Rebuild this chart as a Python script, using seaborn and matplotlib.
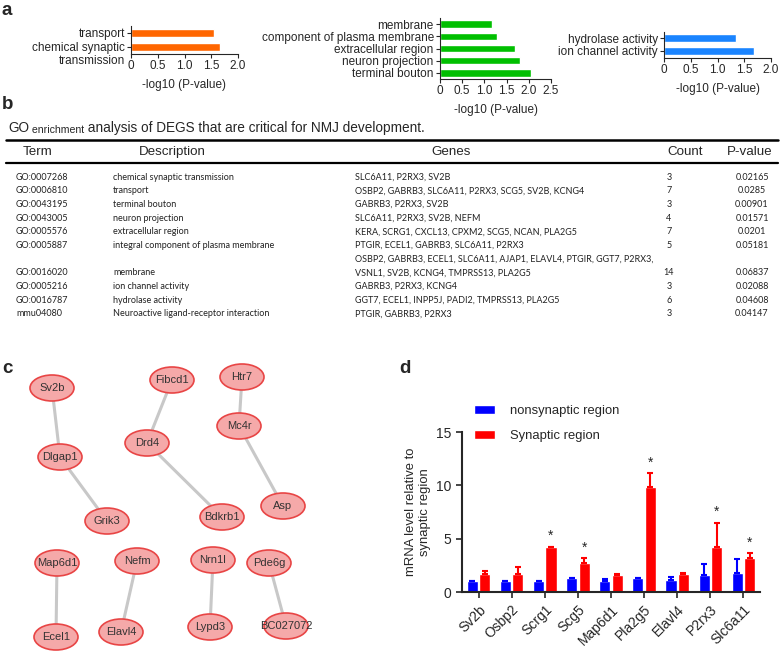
import matplotlib
matplotlib.use('Agg')
import matplotlib.pyplot as plt
from matplotlib.patches import Ellipse
import numpy as np
import pandas as pd
import seaborn as sns

# ---- data -------------------------------------------------------------
# panel a: -log10(P) of the GO terms
bp_terms = ['transport', 'chemical synaptic']
bp_vals = [1.55, 1.66]
cc_terms = ['membrane', 'component of plasma membrane', 'extracellular region',
            'neuron projection', 'terminal bouton']
cc_vals = [1.16, 1.29, 1.70, 1.80, 2.04]
mf_terms = ['hydrolase activity', 'ion channel activity']
mf_vals = [1.34, 1.68]

# panel b: table
tbl_title = ['GO', ' enrichment', ' analysis of DEGS that are critical for NMJ development.']
tbl_header = ['Term', 'Description', 'Genes', 'Count', 'P-value']
go_ids = ['GO:0007268', 'GO:0006810', 'GO:0043195', 'GO:0043005', 'GO:0005576',
          'GO:0005887', 'GO:0016020', 'GO:0005216', 'GO:0016787', 'mmu04080']
go_desc = ['chemical synaptic transmission', 'transport', 'terminal bouton',
           'neuron projection', 'extracellular region',
           'integral component of plasma membrane', 'membrane',
           'ion channel activity', 'hydrolase activity',
           'Neuroactive ligand-receptor interaction']
go_genes = ['SLC6A11, P2RX3, SV2B',
            'OSBP2, GABRB3, SLC6A11, P2RX3, SCG5, SV2B, KCNG4',
            'GABRB3, P2RX3, SV2B',
            'SLC6A11, P2RX3, SV2B, NEFM',
            'KERA, SCRG1, CXCL13, CPXM2, SCG5, NCAN, PLA2G5',
            'PTGIR, ECEL1, GABRB3, SLC6A11, P2RX3',
            'OSBP2, GABRB3, ECEL1, SLC6A11, AJAP1, ELAVL4, PTGIR, GGT7, P2RX3,\n'
            'VSNL1, SV2B, KCNG4, TMPRSS13, PLA2G5',
            'GABRB3, P2RX3, KCNG4',
            'GGT7, ECEL1, INPP5J, PADI2, TMPRSS13, PLA2G5',
            'PTGIR, GABRB3, P2RX3']
go_count = ['3', '7', '3', '4', '7', '5', '14', '3', '6', '3']
go_pval = ['0.02165', '0.0285', '0.00901', '0.01571', '0.0201', '0.05181',
           '0.06837', '0.02088', '0.04608', '0.04147']

# panel c: network (node layout in pixels) and edges
net_nodes = ['Sv2b', 'Dlgap1', 'Grik3', 'Fibcd1', 'Drd4', 'Bdkrb1', 'Htr7', 'Mc4r',
             'Asp', 'Map6d1', 'Ecel1', 'Nefm', 'Elavl4', 'Nrn1l', 'Lypd3',
             'Pde6g', 'BC027072']
net_x = [52, 60, 107, 172, 147, 222, 242, 239, 283, 57, 56, 137, 121, 213, 210, 269, 286]
net_y = [388, 457, 521, 380, 443, 517, 377, 426, 506, 563, 637, 561, 632, 560, 627, 563, 626]
net_edges = [('Sv2b', 'Dlgap1'), ('Dlgap1', 'Grik3'), ('Fibcd1', 'Drd4'),
             ('Drd4', 'Bdkrb1'), ('Htr7', 'Mc4r'), ('Mc4r', 'Asp'),
             ('Map6d1', 'Ecel1'), ('Nefm', 'Elavl4'), ('Nrn1l', 'Lypd3'),
             ('Pde6g', 'BC027072')]

# panel d: qPCR
genes = ['Sv2b', 'Osbp2', 'Scrg1', 'Scg5', 'Map6d1', 'Pla2g5', 'Elavl4', 'P2rx3', 'Slc6a11']
nonsyn_mean = [1.0, 1.0, 1.0, 1.3, 1.05, 1.3, 1.1, 1.55, 1.75]
nonsyn_err = [0.0, 0.0, 0.0, 0.05, 0.15, 0.05, 0.3, 1.05, 1.3]
syn_mean = [1.7, 1.7, 4.2, 2.7, 1.6, 9.8, 1.65, 4.25, 3.2]
syn_err = [0.3, 0.6, 0.05, 0.45, 0.05, 1.35, 0.15, 2.25, 0.45]
significant = [False, False, True, True, False, True, False, True, True]
regions = ['nonsynaptic region', 'Synaptic region']

# ---- style ------------------------------------------------------------
sns.set_style('ticks')
plt.rcParams['font.family'] = ['Liberation Sans', 'DejaVu Sans']
TABLE_FONT = ['Lato', 'DejaVu Sans']
TFS = 6.5

W, H = 782, 652


def rect(x0, y0, x1, y1):
    # pixel box (top-left origin) -> figure fraction
    return [x0 / W, 1 - y1 / H, (x1 - x0) / W, (y1 - y0) / H]


fig = plt.figure(figsize=(W / 100, H / 100), dpi=100)
ov = fig.add_axes([0, 0, 1, 1])
ov.set_xlim(0, W)
ov.set_ylim(H, 0)
ov.axis('off')


# ---- panel a ----------------------------------------------------------
def go_bars(box, terms, vals, color, xmax, ticks):
    ax = fig.add_axes(rect(*box))
    sns.barplot(x=vals, y=terms, orient='h', color=color, width=0.6,
                saturation=1, ax=ax)
    ax.set_xlim(0, xmax)
    ax.set_xticks(ticks)
    ax.set_xticklabels(['0' if t == 0 else f'{t:.1f}' for t in ticks])
    ax.set_xlabel('-log10 (P-value)', fontsize=8.5, labelpad=5)
    ax.set_ylabel('')
    sns.despine(ax=ax)
    ax.tick_params(labelsize=8.5, length=3, width=0.8, pad=1.5)
    for s in ax.spines.values():
        s.set_linewidth(0.8)
    return ax


ax1 = go_bars((131, 26, 238, 54), bp_terms, bp_vals, '#ff6600', 2.0,
              [0, 0.5, 1.0, 1.5, 2.0])
ax1.annotate('transmission', xy=(0, 2.0), xycoords=('axes fraction', 'data'),
             xytext=(-4.5, 0), textcoords='offset points', ha='right',
             va='center', fontsize=8.5, annotation_clip=False)
go_bars((440, 18, 551, 79), cc_terms, cc_vals, '#00bf00', 2.5,
        [0, 0.5, 1.0, 1.5, 2.0, 2.5])
go_bars((664, 31.5, 771, 57.5), mf_terms, mf_vals, '#1a84ff', 2.0,
        [0, 0.5, 1.0, 1.5, 2.0])

# panel letters
for lab, (px, py) in zip('abcd', [(2, 2), (2, 96), (2, 360), (399, 360)]):
    ov.text(px, py, lab, fontsize=13.5, fontweight='bold', va='top', ha='left')

# ---- panel b ----------------------------------------------------------
t = ov.text(8, 132, tbl_title[0], fontsize=9.8, va='baseline')
t = ov.annotate(tbl_title[1], xy=(1, 0), xycoords=t, fontsize=7.6, va='bottom')
ov.annotate(tbl_title[2], xy=(1, 0), xycoords=t, fontsize=9.8, va='bottom')

ov.plot([6, 778], [140, 140], color='black', lw=1.8)
ov.plot([6, 778], [163, 163], color='black', lw=1.6)
for txt, hx in zip(tbl_header, [38, 172, 451, 685, 750]):
    ov.text(hx, 152, txt, fontsize=9.6, ha='center', va='center')

line = 0
row_y = lambda k: 177 + 13.7 * k
for gid, desc, gn, cnt, pv in zip(go_ids, go_desc, go_genes, go_count, go_pval):
    parts = gn.split('\n')
    for j, p in enumerate(parts):
        ov.text(355, row_y(line + j), p, fontsize=TFS, family=TABLE_FONT,
                color='#222222', va='center')
    main = line + len(parts) - 1
    y = row_y(main)
    ov.text(16, y, gid, fontsize=TFS, family=TABLE_FONT, color='#222222', va='center')
    ov.text(113, y, desc, fontsize=TFS, family=TABLE_FONT, color='#222222', va='center')
    ov.text(669, y, cnt, fontsize=TFS, family=TABLE_FONT, color='#222222',
            va='center', ha='center')
    ov.text(752, y, pv, fontsize=TFS, family=TABLE_FONT, color='#222222',
            va='center', ha='center')
    line += len(parts)

# ---- panel c ----------------------------------------------------------
pos = {n: (x, y) for n, x, y in zip(net_nodes, net_x, net_y)}
for a, b in net_edges:
    ov.plot([pos[a][0], pos[b][0]], [pos[a][1], pos[b][1]],
            color='#c8c8c8', lw=2.2, solid_capstyle='round', zorder=1)
for n in net_nodes:
    x, y = pos[n]
    ov.add_patch(Ellipse((x, y), 44, 26, fc='#f5a9a9', ec='#e84545',
                         lw=1.2, zorder=2))
    ov.text(x, y, n, fontsize=8, ha='center', va='center', color='#333333',
            zorder=3)

# ---- panel d ----------------------------------------------------------
df = pd.DataFrame({
    'gene': genes + genes,
    'region': [regions[0]] * len(genes) + [regions[1]] * len(genes),
    'value': nonsyn_mean + syn_mean,
})
colors = ['#0000ff', '#ff0000']
axd = fig.add_axes(rect(462, 432, 760, 592))
sns.barplot(data=df, x='gene', y='value', hue='region', palette=colors,
            width=0.75, gap=0.1, saturation=1, errorbar=None, ax=axd)
for cont, err, col in zip(axd.containers, [nonsyn_err, syn_err], colors):
    xs = [b.get_x() + b.get_width() / 2 for b in cont]
    ys = [b.get_height() for b in cont]
    axd.errorbar(xs, ys, yerr=[np.zeros(len(err)), err], fmt='none',
                 ecolor=col, elinewidth=1.5, capsize=2.5, capthick=1.5)
red_bars = axd.containers[1]
for i, sig in enumerate(significant):
    if sig:
        b = red_bars[i]
        axd.text(b.get_x() + b.get_width() / 2, syn_mean[i] + syn_err[i] + 1.0,
                 '*', ha='center', va='center', fontsize=10)

axd.set_ylim(0, 15)
axd.set_yticks([0, 5, 10, 15])
axd.set_xlim(-0.5, len(genes) - 0.5)
axd.set_xlabel('')
axd.set_ylabel('mRNA level relative to\nsynaptic region', fontsize=9.4)
sns.despine(ax=axd)
for s in axd.spines.values():
    s.set_linewidth(1.5)
axd.tick_params(axis='y', labelsize=10, width=1.2, length=4)
axd.tick_params(axis='x', labelsize=10, width=1.2, length=4)
plt.setp(axd.get_xticklabels(), rotation=45, ha='right', rotation_mode='anchor')
axd.legend(loc='upper left', bbox_to_anchor=(0.04, 1.17), frameon=False,
           fontsize=9.4, handlelength=1.6, handleheight=0.7,
           handletextpad=1.2, labelspacing=1.0, borderpad=0, borderaxespad=0)

fig.savefig('out.png', dpi=100)
